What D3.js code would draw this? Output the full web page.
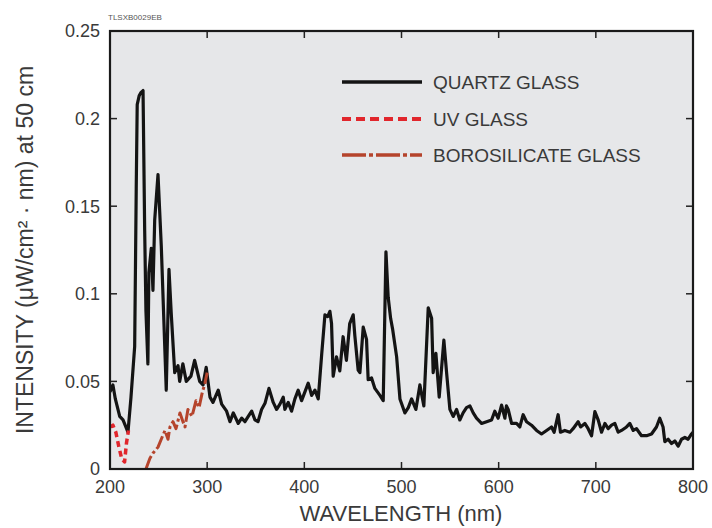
<!DOCTYPE html>
<html>
<head>
<meta charset="utf-8">
<script src="https://cdn.jsdelivr.net/npm/d3@7/dist/d3.min.js"></script>
<style>
  html, body { margin: 0; padding: 0; background: #ffffff; }
  svg { display: block; }
  text { font-family: "Liberation Sans", Arial, Helvetica, sans-serif; }
</style>
</head>
<body>
<svg id="chart" width="712" height="528"></svg>
<script>
// Spectral irradiance of a xenon flash lamp for three bulb glass types

// Quartz glass: wavelength (nm) and intensity (µW/cm²·nm at 50 cm)
const quartzWavelength = [
  200, 203, 205.5, 210, 213.4, 218.5, 221.6, 225.4, 227, 228, 230, 232, 234, 235.7, 237, 239,
  240, 242.5, 244.2, 246, 249.4, 252.8, 257.9, 260.7, 263, 266.6, 270, 271.7, 275, 278.5,
  283.3, 287.1, 292.3, 295.7, 299, 302.9, 306, 311.4, 314.9, 320, 323.5, 326.9, 332, 335.5,
  338.9, 342.3, 345.8, 349.2, 352.3, 356, 359.5, 363.6, 368, 371.5, 374.9, 378.3, 380, 383.4,
  386.9, 390.3, 393.7, 397.2, 400.6, 404, 407.5, 410.9, 414.3, 417.8, 421.2, 424, 426.3, 428,
  429.7, 433.1, 436.5, 439.9, 443.3, 446.7, 450.3, 452, 455.4, 457.2, 460.6, 464, 465.7, 469.2,
  472.6, 477.8, 481.2, 484, 486.3, 488.8, 490.8, 495, 498.4, 503.5, 507, 510.4, 514.8, 518.9,
  523, 527.5, 531, 532.6, 535.4, 538.8, 543.6, 546.4, 549.8, 553.2, 556.7, 560, 563.4, 566.9,
  570.4, 573.8, 577.2, 582.4, 587.6, 592.7, 596, 599.5, 603, 606.4, 608, 609.8, 613.3, 618.4,
  621.8, 625.2, 628.7, 633.8, 639, 644.1, 649.3, 654.4, 657.1, 661.2, 663.6, 668.1, 673.3, 676.6,
  681.8, 684.3, 688.7, 692.1, 695.6, 699, 702.4, 705.9, 709.3, 712.7, 716.2, 719.6, 723, 726.4,
  731.6, 735, 738.5, 741.9, 747, 752.2, 757.3, 762.4, 765.8, 769.2, 771, 774.4, 777.9, 781.3,
  784.7, 788.2, 791.6, 795, 798.5, 800
];
const quartzIntensity = [
  0.044, 0.048, 0.040, 0.030, 0.028, 0.021, 0.041, 0.070, 0.160, 0.208, 0.213, 0.215, 0.216, 0.136, 0.090, 0.060,
  0.112, 0.126, 0.102, 0.142, 0.168, 0.127, 0.045, 0.114, 0.089, 0.055, 0.059, 0.050, 0.060, 0.050,
  0.053, 0.062, 0.050, 0.048, 0.058, 0.041, 0.038, 0.045, 0.037, 0.033, 0.027, 0.032, 0.026, 0.029,
  0.027, 0.030, 0.033, 0.028, 0.027, 0.034, 0.0375, 0.046, 0.038, 0.034, 0.037, 0.041, 0.034, 0.038,
  0.033, 0.040, 0.045, 0.039, 0.044, 0.049, 0.042, 0.045, 0.040, 0.065, 0.088, 0.087, 0.090, 0.083,
  0.053, 0.064, 0.056, 0.0755, 0.062, 0.083, 0.088, 0.076, 0.0565, 0.055, 0.081, 0.074, 0.051, 0.052,
  0.046, 0.042, 0.039, 0.124, 0.098, 0.086, 0.080, 0.064, 0.040, 0.032, 0.035, 0.040, 0.034, 0.048,
  0.036, 0.092, 0.086, 0.055, 0.066, 0.041, 0.0736, 0.055, 0.034, 0.030, 0.034, 0.028, 0.032, 0.035,
  0.036, 0.032, 0.029, 0.026, 0.027, 0.028, 0.033, 0.029, 0.0365, 0.029, 0.036, 0.034, 0.026, 0.026,
  0.024, 0.031, 0.027, 0.025, 0.022, 0.020, 0.022, 0.024, 0.021, 0.031, 0.021, 0.022, 0.021, 0.023,
  0.027, 0.024, 0.026, 0.023, 0.019, 0.0327, 0.028, 0.021, 0.026, 0.023, 0.025, 0.026, 0.021, 0.022,
  0.024, 0.026, 0.022, 0.023, 0.019, 0.019, 0.020, 0.024, 0.029, 0.024, 0.0156, 0.017, 0.0145, 0.016,
  0.013, 0.017, 0.018, 0.017, 0.020, 0.021
];

// UV glass: visible short-wavelength part of the curve
const uvWavelength = [200, 203, 206, 209, 212, 215, 217, 219];
const uvIntensity  = [0.024, 0.025, 0.021, 0.013, 0.006, 0.004, 0.015, 0.022];

// Borosilicate glass: rises from its cutoff until it joins the quartz curve
const boroWavelength = [
  237, 241, 244.2, 249.4, 253.5, 256.6, 259.7, 261.7, 264.8, 267.9,
  272, 275.1, 277.2, 280.2, 284.4, 288.5, 291.6, 294.7, 297.7, 300
];
const boroIntensity = [
  0, 0.006, 0.009, 0.0125, 0.018, 0.022, 0.017, 0.024, 0.027, 0.023,
  0.032, 0.027, 0.024, 0.034, 0.030, 0.039, 0.035, 0.043, 0.049, 0.055
];

// Axis ticks and labels
const xTicks = [200, 300, 400, 500, 600, 700, 800];
const yTicks = [0, 0.05, 0.1, 0.15, 0.2, 0.25];
const yTickLabels = ["0", "0.05", "0.1", "0.15", "0.2", "0.25"];

// Legend entries
const legendNames = ["QUARTZ GLASS", "UV GLASS", "BOROSILICATE GLASS"];

const svg = d3.select("#chart");
const W = 712, H = 528;
const margin = { top: 31, right: 19, bottom: 59, left: 110 };
const plotW = W - margin.left - margin.right;
const plotH = H - margin.top - margin.bottom;

const x = d3.scaleLinear().domain([200, 800]).range([margin.left, margin.left + plotW]);
const y = d3.scaleLinear().domain([0, 0.25]).range([margin.top + plotH, margin.top]);

const textColor = "#3a3a3a";
const styles = {
  quartz: { stroke: "#141414", width: 3.2, dash: null },
  uv:     { stroke: "#e1262c", width: 3.5, dash: "6,4" },
  boro:   { stroke: "#b5442c", width: 3, dash: "14,3,3,3" }
};

// plot background
svg.append("rect")
  .attr("x", margin.left).attr("y", margin.top)
  .attr("width", plotW).attr("height", plotH)
  .attr("fill", "#e6e7e9");

// inward ticks on all four sides
const tickLen = 7;
const innerTicksX = xTicks.slice(1, -1);
const innerTicksY = yTicks.slice(1, -1);
const tickG = svg.append("g").attr("stroke", "#222").attr("stroke-width", 1.5);
tickG.selectAll(".tb").data(innerTicksX).join("line")
  .attr("x1", d => x(d)).attr("x2", d => x(d))
  .attr("y1", y(0)).attr("y2", y(0) - tickLen);
tickG.selectAll(".tt").data(innerTicksX).join("line")
  .attr("x1", d => x(d)).attr("x2", d => x(d))
  .attr("y1", y(0.25)).attr("y2", y(0.25) + tickLen);
tickG.selectAll(".tl").data(innerTicksY).join("line")
  .attr("x1", x(200)).attr("x2", x(200) + tickLen)
  .attr("y1", d => y(d)).attr("y2", d => y(d));
tickG.selectAll(".tr").data(innerTicksY).join("line")
  .attr("x1", x(800)).attr("x2", x(800) - tickLen)
  .attr("y1", d => y(d)).attr("y2", d => y(d));

// tick labels
svg.append("g").selectAll("text").data(xTicks).join("text")
  .attr("x", d => x(d)).attr("y", 493)
  .attr("text-anchor", "middle")
  .attr("font-size", 18).attr("fill", textColor)
  .text(d => d);

svg.append("g").selectAll("text").data(yTicks).join("text")
  .attr("x", 100).attr("y", d => y(d))
  .attr("dy", "0.35em")
  .attr("text-anchor", "end")
  .attr("font-size", 18).attr("fill", textColor)
  .text((d, i) => yTickLabels[i]);

// axis titles
svg.append("text")
  .attr("x", 401).attr("y", 521)
  .attr("text-anchor", "middle")
  .attr("font-size", 22).attr("fill", textColor)
  .text("WAVELENGTH (nm)");

svg.append("text")
  .attr("transform", "translate(33,250) rotate(-90)")
  .attr("text-anchor", "middle")
  .attr("font-size", 23).attr("fill", textColor)
  .text("INTENSITY (μW/cm² · nm) at 50 cm");

// figure code
svg.append("text")
  .attr("x", 108).attr("y", 20)
  .attr("font-size", 8).attr("fill", "#555")
  .text("TLSXB0029EB");

// data lines
const line = d3.line().x(d => x(d[0])).y(d => y(d[1]));
svg.append("clipPath").attr("id", "plotClip")
  .append("rect").attr("x", margin.left).attr("y", margin.top)
  .attr("width", plotW).attr("height", plotH);

const series = [
  { key: "quartz", data: d3.zip(quartzWavelength, quartzIntensity) },
  { key: "uv",     data: d3.zip(uvWavelength, uvIntensity) },
  { key: "boro",   data: d3.zip(boroWavelength, boroIntensity) }
];

const linesG = svg.append("g").attr("clip-path", "url(#plotClip)");
series.forEach(s => {
  const st = styles[s.key];
  linesG.append("path")
    .datum(s.data)
    .attr("d", line)
    .attr("fill", "none")
    .attr("stroke", st.stroke)
    .attr("stroke-width", st.width)
    .attr("stroke-linejoin", "round")
    .attr("stroke-dasharray", st.dash);
});

// frame
svg.append("rect")
  .attr("x", margin.left).attr("y", margin.top)
  .attr("width", plotW).attr("height", plotH)
  .attr("fill", "none").attr("stroke", "#1a1a1a").attr("stroke-width", 2.2);

// legend
const legendKeys = ["quartz", "uv", "boro"];
const legendY = [82, 119, 155];
const legendDash = { quartz: null, uv: "9,5", boro: "24,3,4,3" };
const legend = svg.append("g");
legendKeys.forEach((k, i) => {
  const st = styles[k];
  legend.append("line")
    .attr("x1", 342).attr("x2", 422)
    .attr("y1", legendY[i]).attr("y2", legendY[i])
    .attr("stroke", st.stroke)
    .attr("stroke-width", k === "uv" ? 4 : 3.5)
    .attr("stroke-dasharray", legendDash[k]);
  legend.append("text")
    .attr("x", 433).attr("y", legendY[i])
    .attr("dy", "0.35em")
    .attr("font-size", 19).attr("fill", textColor)
    .text(legendNames[i]);
});
</script>
</body>
</html>
